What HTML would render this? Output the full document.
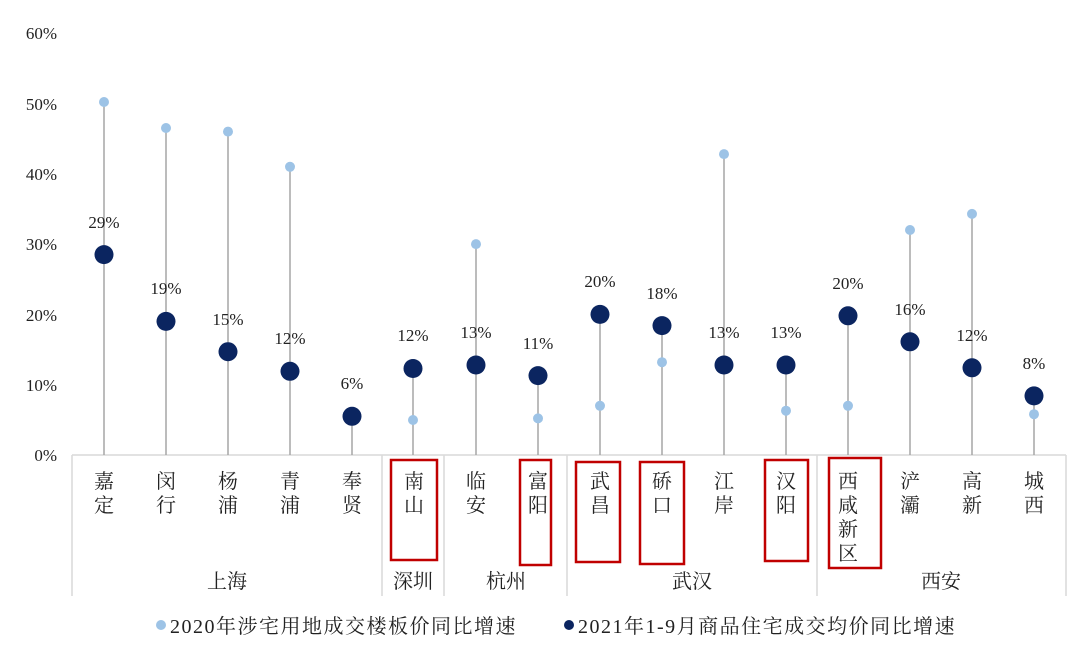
<!DOCTYPE html>
<html><head><meta charset="utf-8"><style>body{margin:0;background:#fff}svg{display:block}text{font-family:"Liberation Serif","Noto Serif CJK SC",serif;fill:#222}</style></head>
<body>
<svg width="1080" height="649" viewBox="0 0 1080 649" xmlns="http://www.w3.org/2000/svg">
<g font-size="17" text-anchor="end">
<text x="57" y="461">0%</text><text x="57" y="391">10%</text><text x="57" y="321">20%</text><text x="57" y="250">30%</text><text x="57" y="180">40%</text><text x="57" y="110">50%</text><text x="57" y="39">60%</text>
</g>
<g stroke="#d9d9d9" stroke-width="1.5" fill="none">
<line x1="72" y1="455" x2="1066" y2="455"/>
<line x1="72" y1="455" x2="72" y2="596"/>
<line x1="382" y1="455" x2="382" y2="596"/>
<line x1="444" y1="455" x2="444" y2="596"/>
<line x1="567" y1="455" x2="567" y2="596"/>
<line x1="817" y1="455" x2="817" y2="596"/>
<line x1="1066" y1="455" x2="1066" y2="596"/>
</g>
<g stroke="#a6a6a6" stroke-width="1.5">
<line x1="104" y1="455" x2="104" y2="102"/>
<line x1="166" y1="455" x2="166" y2="128"/>
<line x1="228" y1="455" x2="228" y2="132"/>
<line x1="290" y1="455" x2="290" y2="167"/>
<line x1="352" y1="455" x2="352" y2="416"/>
<line x1="413" y1="455" x2="413" y2="368"/>
<line x1="476" y1="455" x2="476" y2="244"/>
<line x1="538" y1="455" x2="538" y2="376"/>
<line x1="600" y1="455" x2="600" y2="314"/>
<line x1="662" y1="455" x2="662" y2="326"/>
<line x1="724" y1="455" x2="724" y2="154"/>
<line x1="786" y1="455" x2="786" y2="365"/>
<line x1="848" y1="455" x2="848" y2="316"/>
<line x1="910" y1="455" x2="910" y2="230"/>
<line x1="972" y1="455" x2="972" y2="214"/>
<line x1="1034" y1="455" x2="1034" y2="396"/>
</g>
<g fill="#9dc3e6">
<circle cx="104" cy="102" r="5"/><circle cx="166" cy="128" r="5"/><circle cx="228" cy="131.6" r="5"/><circle cx="290" cy="166.8" r="5"/>
<circle cx="413" cy="420" r="5"/><circle cx="476" cy="244.1" r="5"/><circle cx="538" cy="418.4" r="5"/><circle cx="600" cy="405.8" r="5"/>
<circle cx="662" cy="362.2" r="5"/><circle cx="724" cy="154.1" r="5"/><circle cx="786" cy="410.7" r="5"/><circle cx="848" cy="405.8" r="5"/>
<circle cx="910" cy="230" r="5"/><circle cx="972" cy="213.9" r="5"/><circle cx="1034" cy="414.2" r="5"/>
</g>
<g fill="#0b2560">
<circle cx="104" cy="254.6" r="9.5"/><circle cx="166" cy="321.4" r="9.5"/><circle cx="228" cy="351.7" r="9.5"/><circle cx="290" cy="371.3" r="9.5"/>
<circle cx="352" cy="416.3" r="9.5"/><circle cx="413" cy="368.5" r="9.5"/><circle cx="476" cy="365" r="9.5"/><circle cx="538" cy="375.6" r="9.5"/>
<circle cx="600" cy="314.4" r="9.5"/><circle cx="662" cy="325.6" r="9.5"/><circle cx="724" cy="365" r="9.5"/><circle cx="786" cy="365" r="9.5"/>
<circle cx="848" cy="315.8" r="9.5"/><circle cx="910" cy="341.8" r="9.5"/><circle cx="972" cy="367.8" r="9.5"/><circle cx="1034" cy="395.9" r="9.5"/>
</g>
<g font-size="17" text-anchor="middle">
<text x="104" y="228">29%</text><text x="166" y="294">19%</text><text x="228" y="325">15%</text><text x="290" y="344">12%</text>
<text x="352" y="389">6%</text><text x="413" y="341">12%</text><text x="476" y="338">13%</text><text x="538" y="349">11%</text>
<text x="600" y="287">20%</text><text x="662" y="299">18%</text><text x="724" y="338">13%</text><text x="786" y="338">13%</text>
<text x="848" y="289">20%</text><text x="910" y="315">16%</text><text x="972" y="341">12%</text><text x="1034" y="369">8%</text>
</g>
<g font-size="20" text-anchor="middle">
<text x="104" y="488">嘉</text><text x="104" y="512">定</text>
<text x="166" y="488">闵</text><text x="166" y="512">行</text>
<text x="228" y="488">杨</text><text x="228" y="512">浦</text>
<text x="290" y="488">青</text><text x="290" y="512">浦</text>
<text x="352" y="488">奉</text><text x="352" y="512">贤</text>
<text x="414" y="488">南</text><text x="414" y="512">山</text>
<text x="476" y="488">临</text><text x="476" y="512">安</text>
<text x="538" y="488">富</text><text x="538" y="512">阳</text>
<text x="600" y="488">武</text><text x="600" y="512">昌</text>
<text x="662" y="488">硚</text><text x="662" y="512">口</text>
<text x="724" y="488">江</text><text x="724" y="512">岸</text>
<text x="786" y="488">汉</text><text x="786" y="512">阳</text>
<text x="848" y="488">西</text><text x="848" y="512">咸</text><text x="848" y="536">新</text><text x="848" y="560">区</text>
<text x="910" y="488">浐</text><text x="910" y="512">灞</text>
<text x="972" y="488">高</text><text x="972" y="512">新</text>
<text x="1034" y="488">城</text><text x="1034" y="512">西</text>
<text x="227" y="588">上海</text><text x="413" y="588">深圳</text><text x="506" y="588">杭州</text><text x="692" y="588">武汉</text><text x="941" y="588">西安</text>
</g>
<g fill="none" stroke="#c00000" stroke-width="2.5">
<rect x="391" y="460" width="46" height="100"/>
<rect x="520" y="460" width="31" height="105"/>
<rect x="576" y="462" width="44" height="100"/>
<rect x="640" y="462" width="44" height="102"/>
<rect x="765" y="460" width="43" height="101"/>
<rect x="829" y="458" width="52" height="110"/>
</g>
<circle cx="161" cy="625" r="5" fill="#9dc3e6"/>
<text x="170" y="633" font-size="20" letter-spacing="1.5">2020年涉宅用地成交楼板价同比增速</text>
<circle cx="569" cy="625" r="5" fill="#0b2560"/>
<text x="578" y="633" font-size="20" letter-spacing="1.5">2021年1-9月商品住宅成交均价同比增速</text>
</svg>
</body></html>
